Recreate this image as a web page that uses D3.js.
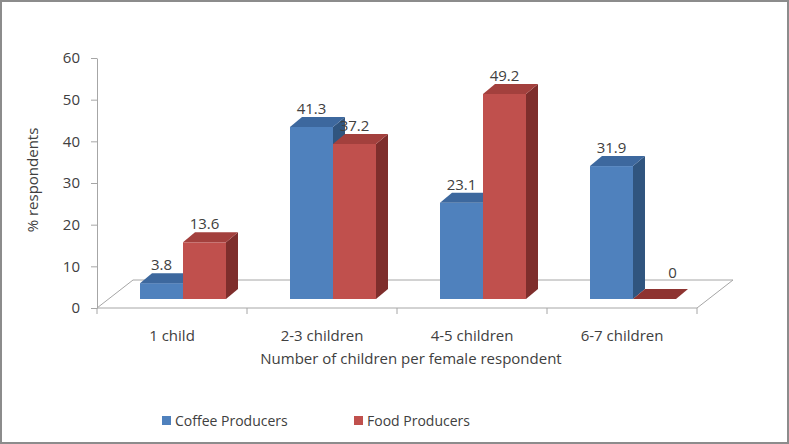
<!DOCTYPE html>
<html lang="en">
<head>
<meta charset="UTF-8">
<title>Children per female respondent</title>
<script src="https://d3js.org/d3.v7.min.js"></script>
<style>
    body { margin: 0; background: #fff; overflow: hidden; }
    svg text { font-family: "Open Sans", Arial, sans-serif; fill: #404040; }
    .axis path, .axis line { stroke: #a6a6a6; }
</style>
</head>
<body>
<div id="chart"></div>
<script>
    const categories = ["1 child", "2-3 children", "4-5 children", "6-7 children"];
    const seriesNames = ["Coffee Producers", "Food Producers"];
    const coffee = [3.8, 41.3, 23.1, 31.9];
    const food = [13.6, 37.2, 49.2, 0];
    const yTicks = [0, 10, 20, 30, 40, 50, 60];

    const W = 789, H = 444;
    const colors = {
        "Coffee Producers": { front: "#4f81bd", top: "#3d689e", side: "#30557f" },
        "Food Producers": { front: "#c0504d", top: "#a3403d", side: "#7e2e2c" }
    };

    // 3d floor / bar depth offsets
    const floorDx = 36, floorDy = -28;
    const barDx = 12, barDy = -10;
    const shiftX = 11, shiftY = -9;   // bars sit part way into the floor

    const svg = d3.select("#chart").append("svg")
        .attr("width", W).attr("height", H);

    svg.append("rect")
        .attr("x", 1).attr("y", 1).attr("width", W - 2).attr("height", H - 2)
        .attr("fill", "#fff").attr("stroke", "#8c8c8c").attr("stroke-width", 2);

    const x = d3.scaleBand().domain(categories).range([97, 697]);
    const xs = d3.scaleBand().domain(seriesNames).range([0, 86]);
    const y = d3.scaleLinear().domain([0, 60]).range([308, 58]);

    // floor
    const x0 = x.range()[0], x1 = x.range()[1], y0 = y(0);
    svg.append("polygon")
        .attr("points", [[x0, y0], [x1, y0], [x1 + floorDx, y0 + floorDy], [x0 + floorDx, y0 + floorDy]].join(" "))
        .attr("fill", "#fff").attr("stroke", "#a6a6a6").attr("stroke-width", 1);

    // y axis
    svg.append("g").attr("class", "axis")
        .attr("transform", `translate(${x0},0)`)
        .call(d3.axisLeft(y).tickValues(yTicks).tickSize(6).tickPadding(11).tickSizeOuter(0))
        .call(g => g.selectAll("text").style("font-size", "15px").attr("fill", "#404040"));

    // x axis: labels at centres, ticks at boundaries
    const xa = svg.append("g").attr("class", "axis")
        .attr("transform", `translate(0,${y0})`)
        .call(d3.axisBottom(x).tickSize(0).tickPadding(22));
    xa.select(".domain").remove();
    xa.selectAll("text").style("font-size", "15px").attr("fill", "#404040");
    const bounds = categories.map(c => x(c)).concat([x1]);
    xa.selectAll(".bound").data(bounds).enter().append("line")
        .attr("x1", d => d).attr("x2", d => d)
        .attr("y1", 0).attr("y2", 6)
        .attr("stroke", "#a6a6a6");

    // bars
    const rows = [];
    categories.forEach((c, i) => {
        rows.push({ cat: c, s: seriesNames[0], v: coffee[i] });
        rows.push({ cat: c, s: seriesNames[1], v: food[i] });
    });

    const bars = svg.append("g").selectAll("g").data(rows).enter().append("g");
    const bx = d => x(d.cat) + (x.bandwidth() - 86) / 2 + shiftX + xs(d.s);
    const bw = xs.bandwidth();
    const base = y(0) + shiftY;
    const barTop = d => y(d.v) + shiftY;

    bars.append("polygon") // side
        .attr("points", d => [[bx(d) + bw, barTop(d)], [bx(d) + bw + barDx, barTop(d) + barDy],
            [bx(d) + bw + barDx, base + barDy], [bx(d) + bw, base]].join(" "))
        .attr("fill", d => colors[d.s].side);
    bars.append("rect") // front
        .attr("x", bx).attr("y", barTop)
        .attr("width", bw).attr("height", d => base - barTop(d))
        .attr("fill", d => colors[d.s].front);
    bars.append("polygon") // top
        .attr("points", d => [[bx(d), barTop(d)], [bx(d) + bw, barTop(d)],
            [bx(d) + bw + barDx, barTop(d) + barDy], [bx(d) + barDx, barTop(d) + barDy]].join(" "))
        .attr("fill", d => d.v === 0 ? "#8e3431" : colors[d.s].top);

    bars.append("text")
        .attr("x", d => bx(d) + bw / 2 + (d.v === 0 ? 18 : 0))
        .attr("y", d => barTop(d) - (d.v === 0 ? 21 : 13))
        .attr("text-anchor", "middle")
        .style("font-size", "15px")
        .text(d => d.v);

    // axis titles
    svg.append("text")
        .attr("x", (x0 + x1) / 2 + 14).attr("y", 364)
        .attr("text-anchor", "middle").style("font-size", "15px")
        .text("Number of children per female respondent");
    svg.append("text")
        .attr("transform", "translate(38,180) rotate(-90)")
        .attr("text-anchor", "middle").style("font-size", "15px")
        .text("% respondents");

    // legend
    const lx = [162, 354];
    const legend = svg.append("g").selectAll("g").data(seriesNames).enter().append("g")
        .attr("transform", (d, i) => `translate(${lx[i]},416)`);
    legend.append("rect").attr("width", 9).attr("height", 9)
        .attr("fill", d => colors[d].front);
    legend.append("text").attr("x", 13).attr("y", 9.5)
        .style("font-size", "14px").text(d => d);
</script>
</body>
</html>
